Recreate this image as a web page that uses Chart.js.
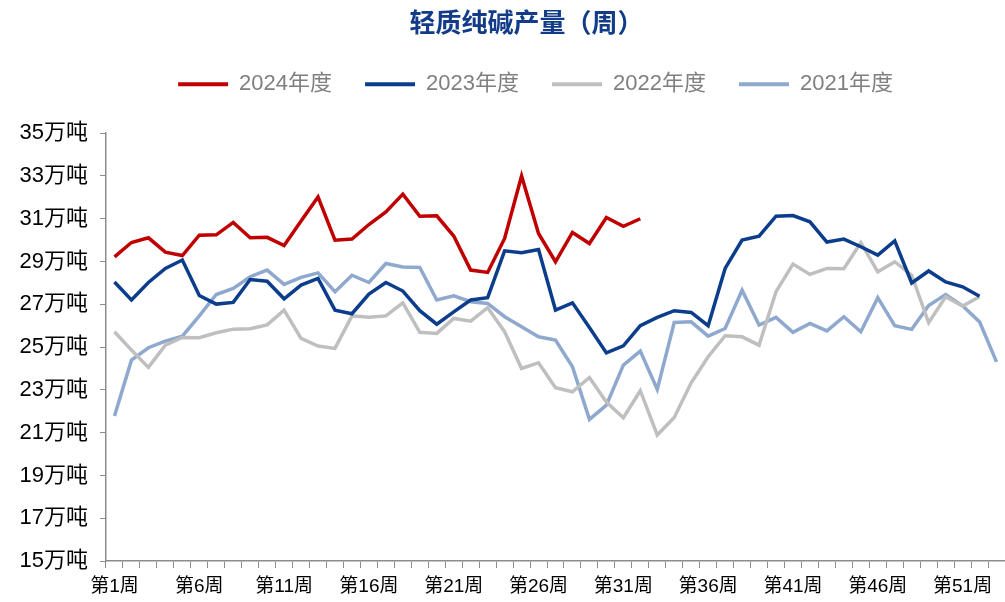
<!DOCTYPE html>
<html>
<head>
<meta charset="utf-8">
<script src="https://cdn.jsdelivr.net/npm/chart.js@4.4.1/dist/chart.umd.min.js"></script>
<style>
  html, body { margin: 0; padding: 0; background: #ffffff; }
  #wrap { width: 1005px; height: 602px; position: relative; }
</style>
</head>
<body>
<div id="wrap"><canvas id="c" width="1005" height="602"></canvas></div>
<script>
const weeks = ["第1周","第2周","第3周","第4周","第5周","第6周","第7周","第8周","第9周","第10周",
  "第11周","第12周","第13周","第14周","第15周","第16周","第17周","第18周","第19周","第20周",
  "第21周","第22周","第23周","第24周","第25周","第26周","第27周","第28周","第29周","第30周",
  "第31周","第32周","第33周","第34周","第35周","第36周","第37周","第38周","第39周","第40周",
  "第41周","第42周","第43周","第44周","第45周","第46周","第47周","第48周","第49周","第50周",
  "第51周","第52周","第53周"];

const y2024 = [29.22, 29.89, 30.11, 29.44, 29.28, 30.23, 30.25, 30.83, 30.11, 30.13,
  29.75, 30.89, 32.02, 30.00, 30.05, 30.73, 31.32, 32.15, 31.12, 31.14,
  30.19, 28.60, 28.49, 30.08, 33.00, 30.31, 28.99, 30.36, 29.84, 31.06,
  30.65, 31.00];

const y2023 = [28.04, 27.20, 28.02, 28.68, 29.07, 27.41, 27.01, 27.09, 28.16, 28.08,
  27.26, 27.90, 28.21, 26.73, 26.56, 27.48, 28.02, 27.62, 26.70, 26.07,
  26.65, 27.20, 27.31, 29.50, 29.41, 29.56, 26.73, 27.07, 25.92, 24.73,
  25.06, 26.00, 26.39, 26.70, 26.62, 26.00, 28.68, 30.00, 30.19, 31.12,
  31.15, 30.86, 29.91, 30.05, 29.69, 29.30, 29.97, 28.00, 28.56, 28.05,
  27.82, 27.38];

const y2022 = [25.72, 24.86, 24.05, 25.09, 25.45, 25.44, 25.67, 25.84, 25.86, 26.04,
  26.73, 25.41, 25.05, 24.94, 26.46, 26.39, 26.46, 27.07, 25.69, 25.64,
  26.34, 26.21, 26.84, 25.72, 24.00, 24.27, 23.10, 22.91, 23.58, 22.43,
  21.70, 22.96, 20.89, 21.71, 23.33, 24.55, 25.53, 25.48, 25.09, 27.59,
  28.88, 28.40, 28.68, 28.66, 29.89, 28.52, 28.99, 28.36, 26.14, 27.35,
  26.92, 27.35];

const y2021 = [21.78, 24.39, 24.97, 25.28, 25.51, 26.46, 27.46, 27.74, 28.29, 28.60,
  27.93, 28.26, 28.47, 27.59, 28.36, 28.02, 28.91, 28.75, 28.72, 27.20,
  27.40, 27.12, 27.04, 26.42, 25.95, 25.48, 25.33, 24.08, 21.62, 22.29,
  24.16, 24.81, 23.02, 26.15, 26.18, 25.51, 25.87, 27.66, 26.03, 26.39,
  25.69, 26.11, 25.76, 26.42, 25.72, 27.31, 26.00, 25.83, 26.94, 27.46,
  26.93, 26.18, 24.31];

const seriesNames = ["2024年度", "2023年度", "2022年度", "2021年度"];
const seriesColors = ["#C00000", "#0B3D8C", "#BFBFBF", "#8EA8CE"];
const titleText = "轻质纯碱产量（周）";
const yUnit = "万吨";

const FONT = "'Liberation Sans', 'Noto Sans CJK SC', sans-serif";

const layoutTweak = {
  id: 'layoutTweak',
  afterInit(chart) {
    const lg = chart.legend;
    if (lg && !lg._patched) {
      const origFit = lg.fit;
      lg.fit = function () { origFit.call(this); if (this.options.display) this.height += 28; };
      lg._patched = true;
    }
  },
  afterLayout(chart) {
    if (chart.legend) { chart.legend.left += 33; chart.legend.right += 33; }
    if (chart.titleBlock) { chart.titleBlock.left += 24; chart.titleBlock.right += 24; }
  }
};

const allSeries = [y2024, y2023, y2022, y2021];
const datasets = allSeries.map((d, i) => ({
  label: seriesNames[i],
  data: d,
  borderColor: seriesColors[i],
  backgroundColor: seriesColors[i],
  borderWidth: 3.5,
  pointRadius: 0,
  pointHoverRadius: 0,
  tension: 0,
  fill: false
}));

new Chart(document.getElementById('c'), {
  type: 'line',
  data: { labels: weeks, datasets },
  plugins: [layoutTweak],
  options: {
    responsive: false,
    animation: false,
    layout: { padding: { left: 0, right: 0, top: 0, bottom: 0 } },
    plugins: {
      title: {
        display: true,
        text: titleText,
        color: '#123C88',
        font: { family: "'Noto Sans CJK SC', sans-serif", size: 26, weight: 'bold', lineHeight: 1.2 },
        padding: { top: 7, bottom: 2 }
      },
      legend: {
        display: true,
        position: 'top',
        labels: {
          boxWidth: 50,
          boxHeight: 4,
          padding: 33,
          color: '#7F7F7F',
          font: { family: FONT, size: 22 },
          generateLabels(chart) {
            const items = Chart.defaults.plugins.legend.labels.generateLabels(chart);
            items.forEach(it => { it.fillStyle = it.strokeStyle; it.lineWidth = 0; });
            return items;
          }
        }
      },
      tooltip: { enabled: false }
    },
    scales: {
      x: {
        type: 'category',
        offset: true,
        afterFit(scale) { scale.height = 41; },
        grid: {
          display: true,
          offset: true,
          drawOnChartArea: false,
          drawTicks: true,
          tickLength: 7,
          color: '#8C8C8C',
          lineWidth: 1
        },
        border: { display: true, color: '#8C8C8C', width: 1.5 },
        ticks: {
          autoSkip: false,
          maxRotation: 0,
          minRotation: 0,
          padding: 7,
          color: '#000000',
          font: { family: FONT, size: 19 },
          callback(value, index) { return index % 5 === 0 ? this.getLabelForValue(value) : ''; }
        }
      },
      y: {
        min: 15,
        max: 35,
        afterFit(scale) { scale.width = 106; },
        grid: {
          display: true,
          drawOnChartArea: false,
          drawTicks: true,
          tickLength: 6,
          color: '#8C8C8C',
          lineWidth: 1
        },
        border: { display: true, color: '#8C8C8C', width: 1.5 },
        ticks: {
          stepSize: 2,
          padding: 12,
          color: '#000000',
          font: { family: FONT, size: 22 },
          callback(v) { return v + yUnit; }
        }
      }
    }
  }
});
</script>
</body>
</html>
